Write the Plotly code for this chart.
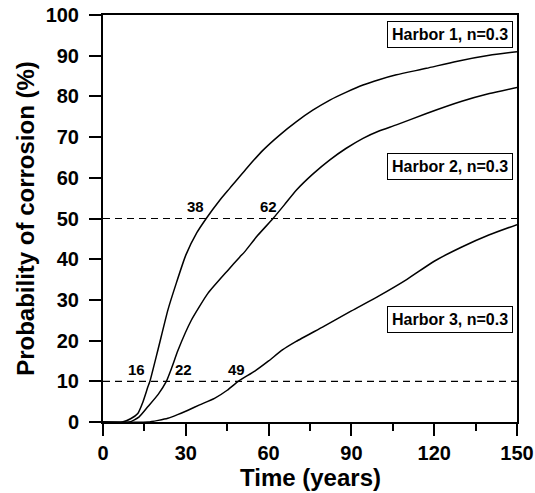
import plotly.graph_objects as go

# Time (years) and probability of corrosion (%) for each harbor
h1_t = [0, 7, 10, 12.6, 14.5, 16.3, 17, 19.9, 23.5, 26.5, 30, 34, 37.4, 42.3, 45.9, 52, 58, 64, 70.1, 76, 82.2, 88, 94.2, 100, 106.3, 117.2, 128, 140, 150]
h1_p = [0, 0, 0.8, 2.1, 5, 8.7, 10, 17.7, 27.5, 34, 41, 46.5, 50, 54.5, 57.4, 62.3, 66.8, 70.5, 73.8, 76.6, 79.1, 81, 82.8, 84.1, 85.3, 86.9, 88.6, 90.1, 91]

h2_t = [0, 9.6, 13, 16.3, 20, 22.9, 25, 27.1, 32, 38, 45.3, 49.5, 51.3, 56, 61.6, 66, 70.1, 76, 82.2, 88, 94.2, 100, 106.3, 117.2, 130, 140, 150]
h2_p = [0, 0, 1.2, 3.8, 6.8, 9.9, 13.5, 17.5, 25, 31.6, 37.3, 40.5, 41.8, 45.8, 50, 53.6, 57, 60.9, 64.4, 67.2, 69.7, 71.5, 73, 75.8, 78.8, 80.7, 82.2]

h3_t = [0, 16.3, 20, 23.5, 27, 30.8, 35, 40.4, 45, 49, 55, 60, 65, 70, 80, 90, 100, 110, 120, 130, 140, 150]
h3_p = [0, 0, 0.4, 0.9, 1.8, 2.9, 4.2, 5.8, 7.8, 10, 12.5, 15, 17.7, 19.8, 23.5, 27.3, 31, 35, 39.5, 43, 46, 48.5]

series_names = ["Harbor 1, n=0.3", "Harbor 2, n=0.3", "Harbor 3, n=0.3"]

# Threshold levels and the times at which each curve reaches them
thresholds = [10, 50]
crossing_labels = ["16", "22", "49", "38", "62"]
crossing_label_t = [12, 29, 48.5, 33.5, 60]
crossing_label_p = [12.8, 12.8, 12.8, 53, 53]

x_ticks = [0, 30, 60, 90, 120, 150]
y_ticks = [0, 10, 20, 30, 40, 50, 60, 70, 80, 90, 100]

FONT = "Liberation Sans, Arial, sans-serif"

fig = go.Figure()

for t, p, name in zip([h1_t, h2_t, h3_t], [h1_p, h2_p, h3_p], series_names):
    fig.add_trace(go.Scatter(x=t, y=p, mode="lines", name=name,
                             line=dict(color="black", width=1.5, shape="spline", smoothing=0.5),
                             showlegend=False))

for lvl in thresholds:
    fig.add_shape(type="line", xref="paper", x0=0, x1=1, yref="y", y0=lvl, y1=lvl,
                  line=dict(color="black", width=1.2, dash="7px,5px"))

for txt, t, p in zip(crossing_labels, crossing_label_t, crossing_label_p):
    fig.add_annotation(x=t, y=p, text=txt, showarrow=False,
                       font=dict(family=FONT, size=15, color="black", weight="bold"))

# Series name boxes, right-aligned inside the plot
box_y = [0.953, 0.628, 0.251]
for name, yy in zip(series_names, box_y):
    fig.add_annotation(xref="paper", yref="paper", x=0.99, y=yy, xanchor="right", yanchor="middle",
                       text=name, showarrow=False, bgcolor="white",
                       bordercolor="black", borderwidth=1, borderpad=4,
                       font=dict(family=FONT, size=16, color="black", weight="bold"))

# x-axis title placed just under the tick labels
fig.add_annotation(xref="paper", yref="paper", x=0.5, y=-0.137, xanchor="center", yanchor="middle",
                   text="Time (years)", showarrow=False,
                   font=dict(family=FONT, size=24, color="black", weight="bold"))

axis_common = dict(showline=True, linecolor="black", linewidth=2, mirror=True,
                   showgrid=False, zeroline=False, ticks="outside", tickcolor="black",
                   tickwidth=2, ticklen=12, automargin=False,
                   tickfont=dict(family=FONT, size=20, color="black", weight="bold"))

fig.update_xaxes(range=[0, 150], tickvals=x_ticks,
                 minor=dict(dtick=15, ticks="outside", ticklen=7, tickwidth=2, tickcolor="black"),
                 **axis_common)
fig.update_yaxes(range=[0, 100], tickvals=y_ticks, ticklabelstandoff=6,
                 title=dict(text="Probability of corrosion (%)", standoff=4,
                            font=dict(family=FONT, size=24, color="black", weight="bold")),
                 **axis_common)

fig.update_layout(width=535, height=493, margin=dict(l=103, r=18, t=15, b=71),
                  plot_bgcolor="white", paper_bgcolor="white")

fig.write_html("out.html")
